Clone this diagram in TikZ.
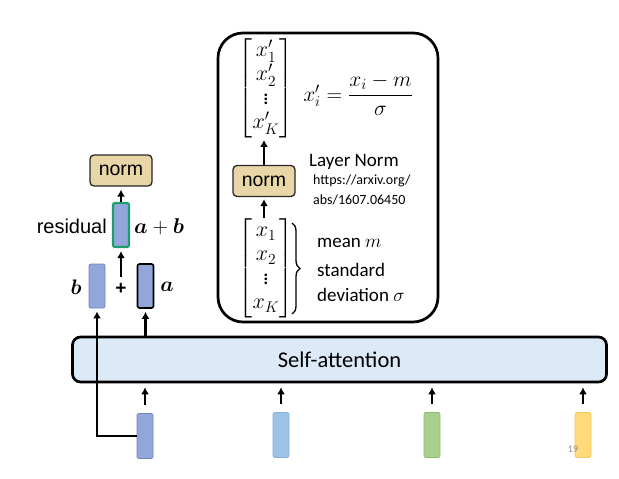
\documentclass[tikz,border=0pt]{standalone}
\usepackage{fix-cm}
\usepackage{amsmath,bm}
\usepackage{fontspec}
\setmainfont{Carlito}
\newfontfamily\arialf{Liberation Sans}
\usetikzlibrary{arrows.meta,decorations.pathreplacing}
\definecolor{vblue}{HTML}{93A6DA}
\definecolor{vblueb}{HTML}{6F84C4}
\definecolor{lblue}{HTML}{9DC3E6}
\definecolor{lblueb}{HTML}{86AEDB}
\definecolor{vgreen}{HTML}{A9D18E}
\definecolor{vgreenb}{HTML}{8DBB70}
\definecolor{vyellow}{HTML}{FFD97A}
\definecolor{vyellowb}{HTML}{F5C95A}
\definecolor{tan}{HTML}{E8D6A9}
\definecolor{safill}{HTML}{DCE9F7}
\definecolor{resgreen}{HTML}{1E9E6A}
\tikzset{
  vecbox/.style={rectangle, rounded corners=2pt, minimum width=16pt, minimum height=45pt, inner sep=0pt, line width=0.8pt},
  normbox/.style={rectangle, rounded corners=4pt, minimum width=62pt, minimum height=31pt, inner sep=0pt, fill=tan, draw=black!85, line width=1.3pt, font=\arialf\fontsize{19.5}{22}\selectfont},
  arr/.style={line width=2.7pt, -{Latex[length=7pt,width=8pt]}},
  mtx/.style={inner sep=0pt, font=\fontsize{22}{24}\selectfont},
  lbl/.style={inner sep=0pt, font=\fontsize{19}{22}\selectfont}
}
\begin{document}
\begin{tikzpicture}[x=1pt,y=-1pt]
\useasboundingbox (0,0) rectangle (619,479);
% self-attention
\node[rectangle, rounded corners=8pt, minimum width=534pt, minimum height=45pt, fill=safill, draw=black, line width=2.7pt, font=\fontsize{22.5}{26}\selectfont, inner sep=0pt] (sa) at (339.5,359.5) {Self-attention};
% bottom vectors
\node[vecbox, fill=vblue, draw=vblueb] (v1) at (145,436) {};
\node[vecbox, fill=lblue, draw=lblueb] (v2) at (281,435) {};
\node[vecbox, fill=vgreen, draw=vgreenb] (v3) at (432,435) {};
\node[vecbox, fill=vyellow, draw=vyellowb] (v4) at (583,435) {};
\foreach \v in {v1,v2,v3,v4}{
  \draw[arr, shorten <=8pt, shorten >=4pt] (\v.north) -- (\v.north |- sa.south);
}
\node[font=\fontsize{10}{12}\selectfont, text=black!45, inner sep=0pt] (pg) at (573,449) {19};
% b and a
\node[vecbox, fill=vblue, draw=vblueb, minimum height=44pt] (b) at (97,286) {};
\node[vecbox, fill=vblue, draw=black, line width=1.6pt, minimum height=44pt] (a) at (145.5,286) {};
\node[inner sep=0pt, font=\fontsize{21}{24}\selectfont] (bl) at (76,287) {$\bm{b}$};
\node[inner sep=0pt, font=\fontsize{21}{24}\selectfont] (al) at (167,287) {$\bm{a}$};
\node[inner sep=0pt, font=\arialf\bfseries\fontsize{19}{22}\selectfont] (plus) at (121,289) {+};
\draw[arr, shorten >=3pt] (a.south |- sa.north) -- (a.south);
\draw[arr, shorten >=3pt] (v1.west) -| (b.south);
% residual
\node[vecbox, fill=vblue, draw=resgreen, line width=2.2pt, minimum height=44pt] (r) at (121,225) {};
\coordinate (pt) at (121,277);
\draw[arr, shorten >=3pt] (pt) -- (r.south);
\node[inner sep=0pt, anchor=east, font=\arialf\fontsize{20}{24}\selectfont] (rl) at (107,226) {residual};
\node[inner sep=0pt, anchor=west, font=\fontsize{21.5}{24}\selectfont] (abl) at (134,227) {$\bm{a}+\bm{b}$};
\node[normbox] (n1) at (121,170.5) {norm};
\draw[arr, shorten >=3pt] (r.north) -- (n1.south);
% big box
\node[rectangle, rounded corners=25pt, minimum width=220pt, minimum height=289pt, draw=black, line width=2.7pt, inner sep=0pt] (big) at (328,177.5) {};
\node[mtx] (m1) at (266,88) {$\begin{bmatrix} x'_1\\ x'_2\\ \vdots\\ x'_K\end{bmatrix}$};
\node[normbox] (n2) at (264,181) {norm};
\node[mtx] (m2) at (266,268) {$\begin{bmatrix} x_1\\ x_2\\ \vdots\\ x_K\end{bmatrix}$};
\draw[arr, shorten >=2pt] (n2.north) -- (n2.north |- m1.south);
\draw[arr, shorten >=2pt] (n2.north |- m2.north) -- (n2.south);
\coordinate (bt) at (292,223);
\coordinate (bb) at (292,314);
\draw[line width=1.3pt, decorate, decoration={brace, amplitude=8pt}] (bt) -- (bb);
\node[inner sep=0pt, font=\fontsize{21.5}{24}\selectfont] (f) at (358,95) {$x'_i=\dfrac{x_i-m}{\sigma}$};
\node[lbl, anchor=west] (ln) at (309,162) {Layer Norm};
\node[inner sep=0pt, anchor=west, font=\fontsize{14}{16}\selectfont] (u1) at (313,181) {https://arxiv.org/};
\node[inner sep=0pt, anchor=west, font=\fontsize{14}{16}\selectfont] (u2) at (313,200) {abs/1607.06450};
\node[lbl, anchor=west] (t1) at (317,243) {mean $m$};
\node[lbl, anchor=west] (t2) at (317,270) {standard};
\node[lbl, anchor=west] (t3) at (317,295) {deviation $\sigma$};
\end{tikzpicture}
\end{document}
